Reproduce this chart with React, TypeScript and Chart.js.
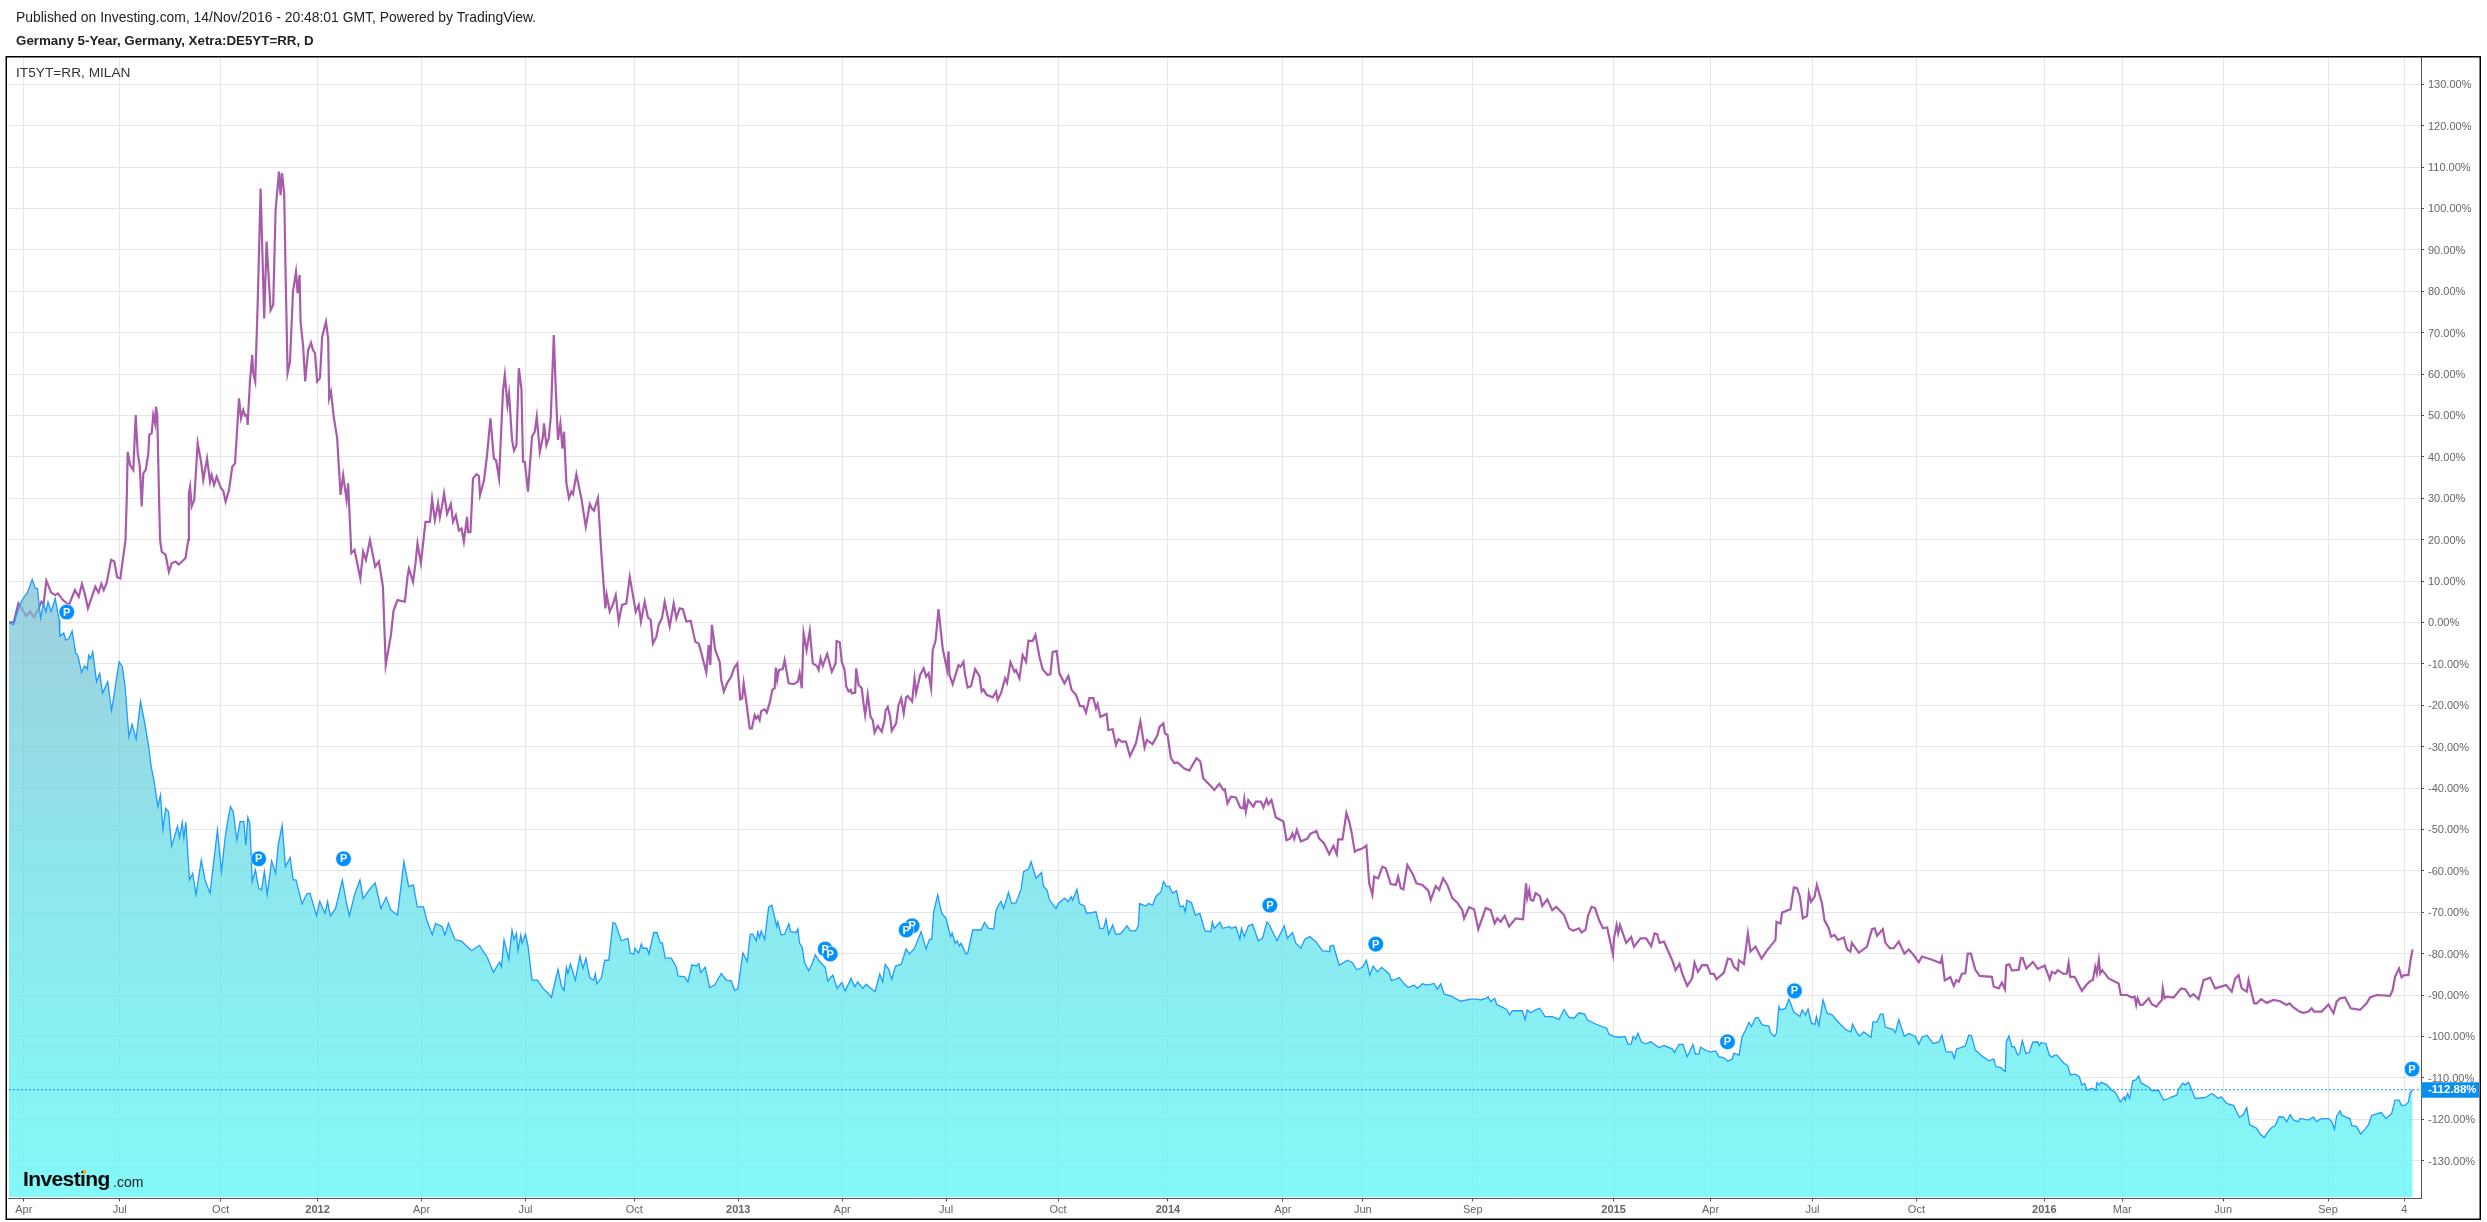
import React, { useEffect, useRef } from "react";
import { Chart, registerables } from "chart.js";

Chart.register(...registerables);

const publishedText = "Published on Investing.com, 14/Nov/2016 - 20:48:01 GMT, Powered by TradingView.";
const mainSymbol = "Germany 5-Year, Germany, Xetra:DE5YT=RR, D";
const compareSymbol = "IT5YT=RR, MILAN";

const timeTickSessions = [11, 59, 109.5, 158, 210, 262, 316.5, 368.5, 420.5, 472.5, 528.5, 583.5, 641, 681, 736, 806.5, 855, 906, 958, 1022, 1061, 1111.5, 1164, 1202];
const timeTickLabels = ["Apr", "Jul", "Oct", "2012", "Apr", "Jul", "Oct", "2013", "Apr", "Jul", "Oct", "2014", "Apr", "Jun", "Sep", "2015", "Apr", "Jul", "Oct", "2016", "Mar", "Jun", "Sep", "4"];
const percentTicks = [130, 120, 110, 100, 90, 80, 70, 60, 50, 40, 30, 20, 10, 0, -10, -20, -30, -40, -50, -60, -70, -80, -90, -100, -110, -120, -130];
const lastValue = -112.88;

const de5y: [number, number][] = [
[3.6,0],[5.9,-0.6],[8.9,4.2],[10.9,6],[12.8,7.2],[15.2,10.4],[16.8,8.2],[17.8,8.2],[19.4,1],[20.8,4.6],[22.1,2.6],[23.1,5],[24.7,2.6],[26.7,5.8],[28.7,0.6],[29,-3.3],[31,-2.6],[32,-4.3],[33.6,-3.9],[35.2,-2.1],[37,-7.5],[38,-7.9],[39.9,-12.1],[41.5,-10.5],[42.7,-11.3],[43.5,-7.9],[44.5,-8.7],[45.5,-7.1],[47.4,-14.3],[49,-12.3],[50.4,-17.1],[53,-14.3],[54.9,-21.3],[56.3,-17.1],[58.7,-9.5],[60.3,-10.7],[61.7,-15.5],[63.6,-27.6],[65.2,-24.6],[67.2,-28.2],[69.4,-19.1],[71.5,-24.2],[73.5,-30],[74.7,-34.8],[76.1,-38.1],[78.1,-44.5],[79.4,-41.7],[80.6,-50],[82,-44.9],[83.4,-45.7],[85,-54],[86.4,-51.8],[87.9,-49.2],[88.9,-51.9],[90.3,-48.3],[91.1,-52.1],[92.1,-48.3],[93.9,-62.2],[95.5,-60.6],[97.2,-65.8],[99.8,-57.4],[101.8,-62.4],[104.2,-65.4],[107.9,-50.1],[109.9,-60.2],[111.7,-52.2],[113,-48.1],[114.4,-44.5],[115.8,-45.7],[117.6,-52.6],[119.2,-48.1],[121.1,-48.1],[122.1,-53.8],[123.1,-47.1],[124.1,-48.6],[125.3,-62.6],[126.9,-59.8],[128.5,-64.2],[130,-64.6],[131.4,-60.2],[132.8,-65.8],[135,-57.6],[137,-60.6],[138.3,-53.8],[140.3,-49],[141.9,-59],[144.3,-56.8],[145.8,-62.2],[147.2,-62.2],[150.2,-68],[152.6,-65.6],[154.2,-65.4],[157.5,-70.9],[159.1,-67.4],[161.7,-70.3],[163,-67.4],[164.4,-70.9],[167,-69.1],[170.4,-62.2],[172.3,-67.4],[173.9,-70.9],[176.5,-65.8],[179.2,-62.2],[180.8,-66.7],[183.8,-64.6],[186.8,-62.9],[189.7,-69.1],[192.3,-66.4],[194.7,-69.5],[198,-70.7],[201.2,-57.8],[203.6,-63.8],[205.9,-63.4],[207.9,-68.7],[211,-68.7],[212.5,-71.7],[215.4,-75.5],[217,-72.7],[220.4,-73.5],[221.7,-75.5],[223.5,-72.7],[226.7,-76.6],
[230,-77],[235,-79.3],[239,-78],[243,-81],[246,-84.5],[249,-82],
[250,-83.2],[251.3,-76.7],[253.7,-81.4],[255.3,-74.3],[256.3,-76.6],[257.5,-75.1],[258.3,-79.3],[259.7,-75.5],[260.3,-77.5],[262,-75.3],[263.3,-78.2],[265.3,-86.4],[268,-86.4],[270.8,-88.4],[273,-89.4],[275,-90.6],[278.3,-83.8],[280,-87.8],[281.3,-88.9],[282.5,-83.3],[283.3,-84.8],[284.5,-82.5],[287,-86.4],[289.3,-80.6],[290.8,-83.6],[292.3,-81.1],[294.2,-85.9],[296.2,-86.4],[297,-84.9],[297.7,-87.3],[300,-85.9],[301.7,-81.6],[303.7,-81.6],[305.8,-72.5],[307,-72.7],[310,-76.9],[313.3,-76.3],[314.5,-79.9],[316.2,-80.1],[316.7,-78.7],[318.7,-79.9],[320,-77.7],[320.8,-78.7],[322.8,-78.7],[323.8,-80.1],[326.2,-74.9],[327.8,-74.9],[329.5,-77.4],[330.5,-77.4],[332,-81.1],[335,-81.1],[337.5,-83.2],[338.3,-85.4],[341.7,-85.6],[343.3,-86.8],[345.3,-82.7],[347.5,-83],[348.8,-82.4],[349.7,-84.6],[352,-83.3],[354.2,-88.2],[356.7,-87.6],[360,-84.8],[362.5,-86.4],[365,-86.6],[366.7,-88.9],[368.3,-88.5],[370.8,-79.8],[373,-81.9],[374.5,-75.3],[375.8,-75.3],[377.5,-76.9],[378.3,-74.7],[379.2,-76.1],[380,-74.5],[381.7,-76.6],[383.7,-68.8],[385.3,-68.3],[387.8,-73.5],[388.3,-72.3],[390,-75.5],[391.7,-75.3],[393.8,-72.8],[394.7,-74.7],[397.5,-74.9],[398.3,-74],[399.2,-77.5],[400.5,-78.5],[401.7,-82.2],[403.7,-84.1],[405.3,-82.7],[407,-80.3],[409.2,-81.9],[412,-83.3],[413.3,-86.6],[415.8,-85.2],[418,-88.4],[420.3,-87],[422,-89],[425,-86],[426.7,-88],[428.3,-86.8],[430.8,-88.4],[432.5,-87.4],[435,-88.4],[437,-89.2],[439.3,-84.9],[440.8,-86.8],[442,-82.6],[443.8,-83.8],[445.3,-86.2],[447.2,-83],[450,-82.6],[452.5,-78.9],[454.2,-80.1],[456.7,-78.7],[460,-74.7],[462.5,-78.9],[464.2,-76.5],[465.3,-76.6],[466.3,-69.9],[468.3,-65.8],[470.3,-70.3],[472.5,-71.5],[474.7,-75.9],[475.5,-75],[477,-77.5],[478,-76.9],[479.2,-78.2],[480,-77.5],[482.5,-80.1],[483.3,-79.9],[485.8,-74.3],[490,-74.3],[491.7,-72.5],[493.7,-73.9],[496.3,-74],[497.5,-69.5],[499.2,-67.9],
[500,-67.4],[501.3,-69.1],[503.7,-65.2],[505.3,-67.9],[507.5,-67.7],[510,-64.5],[511.3,-60.2],[513.7,-59.6],[515,-57.8],[517.5,-61.8],[520.3,-60.4],[521.2,-63.8],[523,-64.6],[524.2,-67],[527.5,-69.1],[528.7,-67.9],[531.7,-66.6],[533.8,-67.4],[535,-66.2],[535.8,-67.1],[538,-64.5],[539.2,-67.9],[541.7,-68.5],[542.8,-70.3],[547.5,-69.9],[549.5,-73.9],[551.3,-73.9],[552.5,-71.7],[553.8,-75.3],[555.8,-73.1],[557.5,-75.4],[560,-75.1],[563,-73.3],[564.7,-74.5],[567.2,-74.5],[568.7,-73.3],[569.3,-67.9],[572.5,-68.5],[573.7,-67.9],[575.8,-68.3],[577.5,-66.2],[580,-65.1],[581.3,-62.6],[582.8,-63.8],[584.2,-63.7],[585.8,-65.4],[587.8,-64.8],[589.5,-68.7],[591.3,-68.5],[592.2,-69.9],[593,-67.1],[595.3,-67.7],[597.2,-70.7],[599.5,-70.3],[602,-74.5],[605,-74.7],[605.7,-72.3],[606.7,-73.9],[609.5,-72.4],[610.8,-73.9],[614.2,-73.5],[615.3,-73.9],[617.5,-73.5],[619.5,-76.5],[620.3,-73.9],[621.7,-75.9],[623.7,-73.3],[625.8,-72.9],[628.7,-76.9],[630.8,-76.3],[633,-72.4],[634.3,-73.1],[638,-76.9],[641.7,-73.3],[643.3,-76.3],[645.8,-74.9],[647.5,-77.5],[650,-78.7],[652,-76.5],[654.5,-75.9],[657.5,-77.1],[660.8,-79.3],[664.2,-79.5],[664.5,-78.2],[666.3,-78],[669.2,-82.8],[673.3,-81.6],[675.8,-82.2],[678,-83.9],[680.8,-83.3],[682.8,-81.6],[684.5,-85.2],[686.2,-83],[688.3,-84.4],[690.5,-83.3],[694.2,-84.9],[695.3,-86.5],[697.8,-86.1],[699.2,-85.8],[701.7,-87.3],[703.7,-88.2],[706.7,-87.6],[708.3,-88.4],[710.8,-87.3],[713.3,-87.6],[716.7,-87.2],[718.3,-88.6],[720,-87.3],[721.7,-89.8],[725,-90.2],
[730,-91.5],[735,-91],[738,-91],
[740,-91.2],[742.5,-90.8],[743.7,-90.4],[745,-91.6],[747,-90.8],[748,-92.3],[750.3,-92.8],[753,-93.5],[754.5,-94.8],[755.8,-93.8],[760.8,-93.8],[762.2,-95.9],[763.3,-93.6],[765,-94.3],[767.5,-93.6],[769.5,-93.2],[772.2,-95.2],[775.8,-95.2],[779.2,-95.9],[781.7,-93.5],[784.2,-95.4],[786.7,-95.6],[789.2,-94.3],[792,-94.6],[793.3,-96],[797.5,-97],[803,-98],[804.2,-99.5],[806.7,-100],[809.2,-100.2],[812.2,-100],[813.7,-101.9],[815.3,-101.8],[816.3,-100],[817.5,-100.7],[818.7,-99.2],[820.3,-101.3],[822.5,-101.8],[825,-101.3],[829.2,-102.7],[831.7,-102.2],[835.8,-103],[837,-103.9],[839.2,-101.9],[841.2,-101.9],[843.3,-104.9],[846.2,-102],[847.5,-104.3],[849.2,-104.2],[850,-102.6],[852.8,-103.4],[855,-103.8],[857.5,-103.5],[859.2,-104.9],[861.7,-105.2],[863.7,-106],[865.8,-105.5],[866.7,-104.1],[869.3,-104.5],[870.8,-100.1],[872.5,-98.5],[874.2,-96.6],[875.5,-97.6],[877.5,-95.5],[878.7,-95.4],[880.8,-97.2],[884.2,-97.5],[885,-99.1],[887,-100],[888,-99.2],[889.2,-92.8],[890,-93.6],[892.5,-93.2],[894.2,-91],[896.7,-94.1],[899.7,-95.2],[900.8,-93.6],[902.5,-94.8],[903.8,-93.4],[905.5,-96.8],[907.2,-97.1],[908,-95.2],[909.2,-97.4],[911.3,-91.2],[913.3,-94.4],[915.8,-94.8],[919.2,-96.7],[923,-98.5],[925.3,-98.9],[926,-97],[928.3,-99.2],[929.5,-99.9],[931.7,-98.9],[935.3,-100.2],[936.3,-96.5],[938.3,-96.5],[940,-94.6],[941.3,-94.6],[942.5,-97.8],[946.3,-98.3],[947.5,-99.1],[949.2,-95.9],
[952,-100],[954.2,-99.3],[957.5,-100],[959.2,-101.9],[960.8,-100.2],[963.3,-99.7],[966.3,-101.7],[969.2,-101.4],[970.8,-99.7],[972.8,-103.7],[975.8,-103.8],[977,-105.3],[978,-103.1],[980.8,-102.6],[982.5,-102.3],[984.2,-99.7],[985.5,-99.8],[987.5,-103.3],[990.8,-104.7],[994.2,-105.9],[996.7,-105.5],[997.8,-107.3],[1000,-107.5],[1002.5,-108.5],[1003,-101.3],[1004.3,-99.9],[1005.8,-102.5],[1007,-102.5],[1008.7,-104.5],[1009.7,-104.1],[1011,-101],[1012.8,-104.1],[1014.5,-103.9],[1016.2,-101.4],[1018.7,-101.3],[1019.5,-102.2],[1020.3,-101.5],[1022.8,-101.7],[1024.5,-104.5],[1025.8,-105],[1027.2,-104.5],[1028.3,-104.5],[1031.7,-106.4],[1033.8,-107.1],[1035,-109.3],[1037.5,-109.1],[1039.5,-109.7],[1040.8,-111.8],[1042.2,-111.3],[1043.3,-113],[1045.8,-112.5],[1047.8,-113],[1048.3,-111.2],[1049.5,-111.7],[1050.5,-111.1],[1053.3,-111.7],[1055.8,-113],[1057.5,-113.5],[1060,-115.8],[1062,-114.6],[1062.5,-115.4],[1063.7,-113.8],[1064.7,-115],[1066.3,-110.7],[1067.8,-110.5],[1069.2,-109.6],[1070.5,-111.3],[1074.2,-112.2],[1075.8,-113.1],[1079.2,-113],[1081.7,-115.4],[1084.2,-115],[1085.8,-114.6],[1088.3,-114.2],[1089.2,-112.7],[1091.3,-111.3],[1092.5,-111.7],[1094.2,-111.1],[1097.5,-115],[1102.5,-114.8],[1105.8,-113.8],[1109.2,-115],[1110.5,-114.6],[1113.3,-116.2],[1116.7,-116.7],[1119.7,-119.6],[1121.7,-118.8],[1123.3,-117.2],[1124.7,-121.3],[1128.3,-122.2],[1130,-123.6],[1132,-124.4],[1134.2,-122.9],[1135.8,-122],[1137.5,-121.6],[1139.5,-119.4],[1141.7,-119.5],[1143.3,-120.6],[1145,-118.9],[1146.7,-120.2],[1149.2,-120.6],
[1150,-119.8],[1154,-120.2],[1156.7,-119.5],[1158.3,-120.6],[1160,-120],[1164.2,-119.8],[1165.8,-120.6],[1167.2,-122.4],[1168.3,-119.2],[1170,-118],[1170.8,-119],[1175,-119.9],[1175.8,-121.5],[1178.3,-121.8],[1180.3,-123.6],[1182.8,-122.2],[1184.2,-121.4],[1185.8,-119.1],[1188.3,-118.7],[1190.5,-118.4],[1193,-119.8],[1195.8,-118.7],[1197.5,-115.4],[1199.5,-115.4],[1200.8,-116.7],[1202.5,-116.6],[1204.2,-115.9],[1205,-113.7],[1206.3,-112.88],
];

const it5y: [number, number][] = [
[3.6,0],[5.9,0],[8.3,4.6],[9.9,3.4],[12.3,1.5],[14.2,2.6],[16.2,1.2],[18.8,3.8],[19.8,5],[20.9,4.4],[22.3,10.1],[24.7,7.2],[26.7,6.6],[28.1,7],[30.6,5.4],[33.6,4.2],[36.6,7.8],[38.5,6.2],[40.1,9.3],[41.5,7],[43.1,3.4],[46.8,8.6],[48.4,7.2],[49.8,9.3],[51,7.8],[52.4,9.4],[54.7,15.1],[56.3,14.7],[57.7,10.9],[59.3,10.6],[61.9,19.9],[62.5,29.6],[63,41.2],[64.2,38],[65.8,36.8],[67,50.1],[68,40.8],[69,38],[70,28],[70.8,36],[72,36.8],[73.3,40.8],[73.8,45.3],[75,45.7],[75.8,50.1],[76.7,48.1],[77.2,52.1],[77.8,49.7],[78.7,29.6],[79.2,19.9],[80,17.1],[82,16.3],[83.6,12.2],[85,14.3],[87,14.7],[88.5,14],[91.9,15.5],[93.3,19.9],[93.6,31.2],[94.2,32.8],[95,28],[96.3,29.6],[98,43.3],[99.7,38.8],[100.8,34.4],[102.7,39.6],[104.2,34],[105,35.6],[106.2,33.2],[107.5,35.2],[109.7,32.4],[110.8,31.8],[112,29.2],[113.7,32],[115.3,37.6],[116.7,38.4],[118.7,54.1],[119.7,49.3],[120.8,51.3],[121.7,49.9],[122.7,50.1],[123,47.7],[124.2,58.5],[125.3,64.6],[125.8,60.2],[126.8,58.2],[128,76.3],[129.5,104.8],[131.3,73.4],[132.5,92],[134.5,75.4],[135.8,76.7],[137,99.6],[138.7,108.9],[139.5,103.2],[140.2,108.5],[141.3,103.6],[142,84.3],[143,60.2],[144.2,63],[145.7,79.9],[147.2,84.7],[148,79.5],[149,83.9],[149.5,72.6],[150.8,66.6],[151.8,58.2],[153.3,65.8],[154.7,67.6],[155.7,65.8],[156.7,65],[157.8,58.2],[159.2,59],[160.3,69],[162.2,72.6],[163.3,68.6],[163.8,54.1],[164.7,55.7],[166.2,49.3],[167.8,44.5],[169.5,30.8],[170.8,35.6],[172.5,29.6],[173.3,33.6],[174.9,16.7],[176.5,17.5],[179.4,10.6],[180.8,17.1],[182.2,15.1],[184.2,19.9],[186.8,13.5],[188.7,14.7],[190.7,8.6],[192.1,-10.3],[194.7,-3],[196,2.8],[198,5.4],
[201.7,5],[203,11],[203.7,13],[205.8,9.8],[207,14.3],[208,19.1],[209.7,14.3],[212,24.3],[214.2,24.3],[215.3,29.8],[216.7,24.7],[218.3,28.8],[219.2,25.4],[220.3,28.2],[221.3,31.2],[222.8,26.2],[224.7,28.6],[225.8,24.3],[227.2,25.9],[228.7,22.2],[230,22.7],[231.2,19.5],[232.8,25.5],[233.3,21.8],[234.5,21.8],[235.8,34.8],[237.5,35.8],[238.7,35.4],[239.3,30.8],[241.3,34.4],[242.8,40.4],[244.5,49.3],[246.2,39.6],[247.3,39.2],[248.8,34.8],[250.8,56.1],[251.7,59.8],[253,52.5],[253.8,55.3],[255.3,44.1],[256.3,41.5],[257.5,42.8],[258.7,61.4],[260,56.5],[260.8,38.8],[261.7,38.8],[263.3,31.6],[265.3,44.9],[266.7,46.1],[267.7,49.7],[269.2,41.2],[270.8,44.9],[271.3,48.1],[272.5,42.8],[273.7,44.5],[274.7,49.7],[276.2,69.4],[277.2,56.1],[278.3,44.1],[279.5,48.1],[280.5,42],[281.3,46.1],[282.5,33.6],[283.8,30],[285,31.6],[285.8,31],[287.5,35.8],[290,30],[292.2,23.1],[294.2,28.6],[295.3,27.5],[296.3,27],[298.3,30],[300,16.7],[302,3.4],[302.7,6.6],[304.2,2.6],[305.8,4.4],[307.2,6.6],[308.7,0.2],[310.3,4.2],[312.5,4.6],[314.2,11],[315.8,6.6],[317.2,2.6],[318.7,4.2],[319.8,0.2],[321.7,5],[323.3,1.2],[324.7,0.6],[325.8,-5.1],[327.5,-3.5],[328.7,-0.6],[330.3,1],[331.7,5],[334.2,-1],[336.2,4.6],[337.5,1],[339.2,3.4],[340.8,3.2],[342.5,0.2],[344.7,0.4],[347,-4.7],[348.7,-5.1],
[350,-7.3],[352.5,-12.1],[353.7,-5.5],[354.5,-10.3],[355.3,-0.6],[357,-6.7],[359.2,-9.5],[360,-13.9],[361.3,-16.7],[363,-14.6],[365,-13.1],[366.3,-11.1],[368,-9.9],[369.5,-18.6],[370.5,-18.4],[371.2,-14.7],[372.5,-19.1],[374.2,-25.6],[375.3,-25.6],[376.7,-22.4],[377.5,-23.2],[378.3,-22.6],[379.2,-23.6],[380,-21.4],[381.7,-21],[382.8,-21.8],[384.5,-18.9],[385.5,-16.3],[386.7,-15.9],[387.3,-10.9],[388,-13.9],[388.8,-11.5],[390.8,-11.3],[391.7,-9.1],[393.7,-14.7],[396.3,-14.9],[398.3,-14.3],[399.2,-12.3],[400.3,-15.9],[401.2,-2.6],[402.7,-6.7],[404.3,-2],[405.8,-9.9],[407.8,-10.5],[408.7,-11.5],[409.7,-8.7],[410.8,-10.5],[413,-7.6],[415.3,-11.9],[417.2,-9.9],[417.7,-4.5],[419.3,-4.8],[420.3,-9.5],[421.7,-11.5],[422.5,-15.4],[423.7,-16.7],[424.7,-16.3],[425.3,-17.1],[427,-17],[427.5,-11.1],[428.7,-15.1],[430.3,-15.9],[431.2,-19.7],[432,-22.4],[433.3,-17.5],[434.7,-22.8],[435.8,-23.6],[436.7,-26.6],[438.3,-25],[440.3,-26.4],[441.7,-23.6],[442.2,-21.3],[443.3,-20.4],[444.5,-22.8],[445.3,-26.2],[447.5,-24.4],[448.7,-20],[450,-18.3],[451.3,-22],[452.5,-18.1],[453.3,-17.8],[455.5,-19.1],[456.7,-13.5],[457.5,-17.1],[459.5,-12.7],[461.3,-11.1],[462.5,-13.1],[463.7,-12.3],[465,-15.9],[465.8,-6.7],[467.2,-4.5],[468.7,3.2],[470.8,-6.3],[473,-11.5],[473.7,-7],[474.2,-12.7],[475.8,-14.9],[478.7,-10.3],[479.7,-10.7],[481.2,-9.5],[482,-12.7],[483.3,-15.7],[485,-15.4],[487,-11.3],[489.2,-13],[490.3,-16.7],[491.2,-16.2],[492.8,-17.5],[495.8,-18.1],[497.5,-16.7],[498.3,-18.7],[500,-17.1],[502,-13.5],[503,-14.6],[504.7,-9.6],[506.7,-11.9],[507.5,-11.5],[509.2,-13.5],[510.8,-7.9],[512.5,-9.5],[513.7,-4.4],[515.8,-4.5],[517.2,-3],[519.2,-8.3],[520.8,-11.3],[523.3,-12.7],[524.7,-12.5],[525.8,-7.1],[527.8,-6.9],[529.2,-12.3],[531.7,-14.7],[533.7,-12.9],[535.3,-16.3],[537.5,-17.5],[539.5,-20.2],[541.2,-20.2],[542.5,-21.8],[544.2,-18.3],[546.2,-18.3],[547.5,-20.8],[548.3,-19.7],[549.7,-22.8],[552.8,-22.1],[553.7,-26],[555.8,-25.8],[557.5,-29.6],[558.7,-28.2],[560.3,-28.8],[562.5,-28.8],[564.5,-32.3],[567.5,-29.2],[569.7,-23.9],[571.8,-30.2],[573,-28.4],[575.8,-29.4],[578.3,-27.2],[579.2,-25.3],[581.2,-24.4],[582,-26.8],[583.3,-27.2],[585,-32.8],[586.7,-34],[588.3,-33.8],[591.7,-35.3],[594.2,-35.8],[597.8,-32.8],[599.7,-33.6],
[601.2,-37.7],[605.3,-39.7],[606.7,-40.5],[609.2,-39],[611.3,-40.5],[612,-40.3],[613.3,-43.7],[615,-42.1],[617.5,-42.3],[619.7,-44.7],[621.2,-44.9],[621.7,-42.7],[622.5,-45.7],[623.7,-42.9],[626.2,-44.5],[627.5,-43.3],[630,-43.3],[631.3,-44.7],[632.8,-42.7],[633.7,-43.9],[635.3,-42.9],[637.5,-47.1],[641.3,-48.1],[642.8,-52.6],[644.7,-52.2],[645.8,-51],[646.7,-52.3],[648,-50.1],[650,-52.9],[653.3,-52.2],[654.7,-51.1],[657.8,-50.4],[659.2,-52.2],[661.7,-53.4],[664.2,-56],[666.3,-54],[668,-56],[668.7,-52.4],[670.8,-52.4],[671.7,-49.7],[672.8,-46],[674.2,-48.1],[675.3,-50.5],[677,-55.4],[678.3,-55],[680.8,-54.6],[682.8,-53.9],[684.2,-63],[685.8,-65.8],[686.7,-61.4],[688.7,-61.8],[690.8,-59],[692.5,-59.4],[695,-63.2],[697.5,-63.4],[698.7,-61.4],[700,-64.2],[701.3,-64.5],[703.3,-58.6],[706.2,-61],[707.8,-63],[710.8,-63.4],[713.8,-64.8],[715,-67],[717.5,-63.7],[719.2,-64.6],[721.2,-61.8],[723.3,-63.4],[725.8,-66.6],[728.3,-67.7],[730.8,-69.5],[731.7,-71.5],[734.2,-68.8],[736.7,-69.3],[738.8,-74.1],
[742.5,-69],[745,-69.5],[747,-72.7],[748.3,-71.5],[750,-72.3],[752,-70.9],[754.2,-73.5],[757.5,-71.5],[761.2,-71.7],[762.7,-63],[763.3,-66.6],[764.3,-64.6],[765,-67],[766.3,-67.2],[767.5,-65.4],[769.7,-66.2],[770.8,-68.5],[773.3,-66.9],[775.8,-69.5],[777.8,-68.7],[781.7,-70.7],[784.2,-73.9],[786.3,-74.5],[789.2,-73.9],[790.5,-74.9],[792.5,-74.2],[793.8,-70.7],[795.5,-68.7],[797.2,-69],[799.2,-71.9],[801.2,-73.9],[803.3,-73.7],[806.2,-80.3],[806.7,-76.3],[808,-73.1],[808.8,-75.1],[809.7,-73.1],[812.8,-77.4],[815.3,-76],[816.7,-78.3],[820,-76.3],[822.8,-76.3],[825.3,-78.2],[827,-75.1],[828.3,-75.3],[829.5,-77.4],[831.7,-77.1],[835.8,-81.6],[837.5,-84],[839.5,-82.5],[840.8,-84.8],[843.3,-87.8],[845.8,-86],[847,-82.2],[848.7,-84.4],[850.8,-82.8],[853.3,-82.8],[855,-84.9],[856.7,-84.9],[858,-86.2],[861.7,-84.6],[863.7,-81.2],[865.3,-81.4],[866.7,-83.2],[868.7,-84],[869.2,-81.6],[871.7,-82.5],[873.7,-75.1],[875,-79.5],[877.5,-78.3],[880.5,-81.2],[883.3,-79.2],[887.5,-76.7],[888,-72.3],[890,-72.7],[890.8,-70.1],[895,-69.3],[896.7,-64],[898.3,-64.2],[899.7,-66.2],[901.2,-71.5],[903.3,-70.9],[904.2,-65.4],[905.3,-67.5],[907,-66.3],[908.2,-63.4],[910.8,-67.9],[912,-71.9],[914.2,-73.9],[915.3,-75.9],[917,-75.5],[918.7,-76.7],[921.7,-76.1],[923.3,-78.9],[925,-79.5],[925.7,-77.4],[929.2,-79.8],[933.3,-78.3],[935.8,-74.1],[937.2,-73.9],[938.3,-75.7],[941.2,-74.1],[942.5,-77.4],[944.7,-78.7],[946.7,-78.7],[949.2,-77.1],
[952,-80],[954.2,-79],[956.7,-80.4],[959.2,-82.1],[960.8,-80.7],[965.8,-81.5],[970,-82.3],[970.8,-81],[972.2,-86.5],[975,-85.7],[976.7,-87.8],[978,-86.4],[979.2,-86.8],[980.8,-84.8],[982.5,-84.8],[983.7,-80],[985.3,-80],[987.5,-83.9],[989.7,-85.4],[995.8,-85.6],[996.7,-88],[999.2,-88.4],[1000.8,-87],[1002.3,-88.6],[1003,-82.8],[1004.5,-82.6],[1005.8,-84.1],[1009.2,-83.9],[1010.3,-81.1],[1011.2,-81.1],[1013,-83.6],[1016.3,-82],[1018.7,-83.7],[1022.2,-82.9],[1024.7,-86.2],[1025.8,-84.4],[1027.5,-84.8],[1028.7,-84],[1031.7,-84.9],[1033.3,-84.8],[1034.2,-82.3],[1035,-85.6],[1037.2,-85.6],[1040.8,-89],[1043,-87.6],[1045,-86.6],[1046.3,-86.4],[1047.5,-83.2],[1048.3,-84.8],[1049.3,-81.5],[1050,-84.8],[1051,-84],[1054.2,-86],[1059.2,-87.2],[1060.3,-90],[1063.3,-90],[1065.8,-90.6],[1067.2,-90.4],[1068,-92.4],[1068.7,-90.8],[1070,-92.4],[1071.2,-92.4],[1074.2,-90.8],[1075.8,-92.2],[1078,-92.8],[1080.8,-91.2],[1081.3,-88.4],[1082.2,-90.8],[1083.3,-90.4],[1086.7,-90.6],[1090.5,-88.4],[1092.5,-88.6],[1095,-90.4],[1096.7,-89.8],[1099.2,-91],[1101.7,-86.4],[1105,-85.8],[1107.5,-88.4],[1111.7,-87.8],[1113,-87.6],[1115.8,-89.2],[1117.5,-86],[1119.2,-85.2],[1120.8,-88.4],[1123.3,-89.2],[1124.2,-86.4],[1127,-92],[1128.3,-92],[1130.5,-91],[1133.3,-91.9],[1136.7,-91.2],[1140,-91.5],[1143.3,-92.4],[1144.7,-92],[1146.7,-93],[1149.7,-94],
[1151.7,-94.3],[1154.2,-94],[1155.8,-93.2],[1157,-94],[1160.8,-94],[1164.2,-92.3],[1166.7,-94.4],[1168.3,-91.6],[1170,-90.8],[1172.5,-90.6],[1175.3,-93.2],[1180,-93.6],[1183.3,-92],[1185,-90.6],[1188.3,-90],[1195,-90.2],[1196.3,-88.8],[1197.5,-85.6],[1199.5,-83.6],[1200.8,-85.7],[1202,-85.2],[1204.2,-85.2],[1205.3,-81.5],[1206.3,-79],
];

const publicationMarkers: [number, number][] = [
[32.5,2.5],[128.5,-57.1],[171,-57.1],[412,-78.9],[414.5,-80.1],[455.5,-73.3],[452.5,-74.3],[634.5,-68.3],[687.5,-77.7],[863.5,-101.3],[897,-89],[1206,-107.9],
];

const AXIS_TEXT = "#666666";
const FONT = "'Liberation Sans', Arial, sans-serif";

const toXY = (pts: [number, number][]) => pts.map(([x, y]) => ({ x, y }));

const overlayPlugin = {
  id: "overlay",
  afterDraw(chart: any) {
    const { ctx, chartArea, scales } = chart;
    ctx.save();
    // outer frame
    ctx.strokeStyle = "#000000";
    ctx.lineWidth = 1.5;
    ctx.strokeRect(6.25, 56.75, 2474, 1162.5);
    // P letters
    ctx.fillStyle = "#ffffff";
    ctx.font = `bold 11px ${FONT}`;
    ctx.textAlign = "center";
    ctx.textBaseline = "middle";
    publicationMarkers.forEach(([s, v]) => {
      ctx.fillText("P", scales.x.getPixelForValue(s), scales.y.getPixelForValue(v) + 0.5);
    });
    // last-value tag
    const ty = scales.y.getPixelForValue(lastValue);
    ctx.fillStyle = "#0a8fee";
    ctx.fillRect(chartArea.right, ty - 7.5, 58, 15.5);
    ctx.fillStyle = "#ffffff";
    ctx.font = `bold 11.5px ${FONT}`;
    ctx.textAlign = "left";
    ctx.fillText(`${lastValue.toFixed(2)}%`, chartArea.right + 7, ty + 0.5);
    ctx.restore();
  },
};

export default function App() {
  const ref = useRef<HTMLCanvasElement>(null);
  useEffect(() => {
    document.body.style.margin = "0";
    const canvas = ref.current!;
    const chart = new Chart(canvas, {
      type: "line",
      data: {
        datasets: [
          {
            label: "P",
            data: toXY(publicationMarkers),
            showLine: false,
            pointStyle: "circle",
            pointRadius: 7.8,
            pointBackgroundColor: "#0090ff",
            pointBorderColor: "rgba(255,255,255,0.55)",
            pointBorderWidth: 1,
            order: 0,
          },
          {
            label: "Last",
            data: [{ x: 3.5, y: lastValue }, { x: 1210.5, y: lastValue }],
            borderColor: "#0a86e6",
            borderWidth: 1,
            borderDash: [2, 2],
            pointRadius: 0,
            order: 1,
          },
          {
            label: "Germany 5-Year",
            data: toXY(de5y),
            borderColor: "#1e9bff",
            borderWidth: 1.3,
            pointRadius: 0,
            tension: 0,
            fill: { value: -138.8 },
            backgroundColor: (c: any) => {
              const { chart: ch } = c;
              const { ctx, chartArea, scales } = ch;
              if (!chartArea || !scales.y) return "rgba(101,247,247,0.8)";
              const g = ctx.createLinearGradient(0, scales.y.getPixelForValue(10), 0, chartArea.bottom);
              g.addColorStop(0, "rgba(118,188,206,0.7)");
              g.addColorStop(0.5, "rgba(102,224,232,0.75)");
              g.addColorStop(1, "rgba(101,247,247,0.8)");
              return g;
            },
            order: 2,
          },
          {
            label: "IT5YT=RR",
            data: toXY(it5y),
            borderColor: "#a85aab",
            borderWidth: 2.2,
            pointRadius: 0,
            tension: 0,
            order: 3,
          },
        ],
      },
      options: {
        responsive: false,
        animation: false,
        devicePixelRatio: 1,
        layout: { padding: { left: 7, top: 57, right: 7, bottom: 3 } },
        plugins: { legend: { display: false }, tooltip: { enabled: false } },
        scales: {
          x: {
            type: "linear",
            min: 3.5,
            max: 1210.5,
            afterBuildTicks: (s: any) => { s.ticks = timeTickSessions.map((value) => ({ value })); },
            afterFit: (s: any) => { s.height = 20.5; },
            grid: { color: "#e6e6e6", lineWidth: 1, tickLength: 3, tickColor: "#555555", drawTicks: true },
            border: { color: "#555555", width: 1 },
            ticks: {
              autoSkip: false,
              maxRotation: 0,
              padding: 2,
              color: AXIS_TEXT,
              font: (c: any) => {
                const l = String(c.tick?.label ?? "");
                return /^\d{4}$/.test(l) ? { family: FONT, size: 11, weight: "bold" } : { family: FONT, size: 11 };
              },
              callback: (v: any) => {
                const i = timeTickSessions.indexOf(v);
                return i >= 0 ? timeTickLabels[i] : "";
              },
            },
          },
          y: {
            type: "linear",
            position: "right",
            min: -139.15,
            max: 136.57,
            afterBuildTicks: (s: any) => { s.ticks = percentTicks.map((value) => ({ value })); },
            afterFit: (s: any) => { s.width = 59; },
            grid: { color: "#e6e6e6", lineWidth: 1, tickLength: 3, tickColor: "#555555" },
            border: { color: "#555555", width: 1 },
            ticks: {
              autoSkip: false,
              padding: 4,
              labelOffset: 1,
              color: AXIS_TEXT,
              font: { family: FONT, size: 11 },
              callback: (v: any) => `${Number(v).toFixed(2)}%`,
            },
          },
        },
      },
      plugins: [overlayPlugin],
    } as any);
    return () => chart.destroy();
  }, []);

  const abs = (s: React.CSSProperties): React.CSSProperties => ({
    position: "absolute",
    fontFamily: FONT,
    whiteSpace: "nowrap",
    lineHeight: 1,
    ...s,
  });

  return (
    <div style={{ position: "relative", width: 2487, height: 1222, background: "#fff", overflow: "hidden" }}>
      <canvas ref={ref} width={2487} height={1222} style={{ position: "absolute", left: 0, top: 0 }} />
      <div style={abs({ left: 16, top: 11, fontSize: 13.9, color: "#222" })}>{publishedText}</div>
      <div style={abs({ left: 16, top: 34, fontSize: 13.35, fontWeight: "bold", color: "#222" })}>{mainSymbol}</div>
      <div style={abs({ left: 16, top: 66, fontSize: 13.7, color: "#333" })}>{compareSymbol}</div>
      <div style={abs({ left: 23, top: 1168, fontSize: 21, fontWeight: "bold", color: "#0b0b0b", letterSpacing: -0.6 })}>Investing</div>
      <div style={abs({ left: 113, top: 1174.5, fontSize: 14, color: "#222" })}>.com</div>
      <div style={{ position: "absolute", left: 83, top: 1170, width: 3, height: 4, background: "#f5a623" }} />
    </div>
  );
}
